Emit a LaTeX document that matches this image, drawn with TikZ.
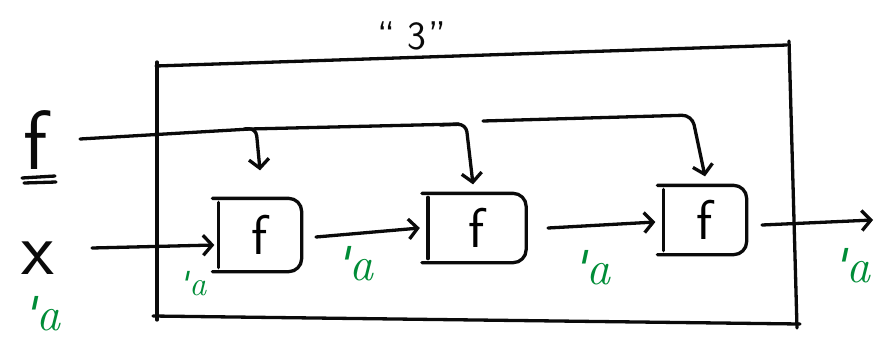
\documentclass[tikz,border=0pt]{standalone}
\usetikzlibrary{arrows.meta}
\definecolor{ink}{RGB}{10,10,10}
\definecolor{tag}{RGB}{0,140,55}
\newcommand{\tya}{{\sffamily\textquotesingle}\kern1pt a}
\begin{document}
\begin{tikzpicture}[x=1pt,y=-1pt,line width=3.3pt,line cap=round,line join=round,
  wire/.style={draw=ink,-{Straight Barb[length=9pt,width=20pt,line width=3.3pt]}},
  stroke/.style={draw=ink},
  fbox/.style={draw=none,inner sep=0pt,font=\sffamily\fontsize{56}{56}\selectfont},
  bigtxt/.style={inner sep=0pt,text=ink,font=\sffamily\fontsize{#1}{#1}\selectfont},
  typ/.style={inner sep=0pt,text=tag,font=\itshape\fontsize{#1}{#1}\selectfont}]
\useasboundingbox (0,0) rectangle (877,341);

% enclosing block, sketched as four loose strokes
\coordinate (tl) at (157,66);
\coordinate (tr) at (789,45);
\coordinate (br) at (797,326);
\coordinate (bl) at (157,316);
\draw[stroke] ([xshift=-1pt]tl) -- ([xshift=-2pt]tr);
\draw[stroke] ([yshift=4pt]tr) -- ([yshift=-2pt]br);
\draw[stroke] ([xshift=-4pt]bl) -- ([xshift=3pt,yshift=2pt]br);
\draw[stroke] ([yshift=4pt]tl) -- ([yshift=-4pt]bl);
\node[bigtxt=40] (rep) at (412,36) {``\hspace{12pt}3\hspace{2pt}''};

% inputs
\node[bigtxt=84] (fin) at (36,140) {f};
\draw[stroke] (22,178) -- (55,176);
\draw[stroke] (24,183) -- (56,182);
\node[bigtxt=76] (xin) at (38,258) {x};
\node[typ=48] (tx) at (42,314) {\tya};

% the three applications of f
\node[fbox,minimum width=80pt,minimum height=70pt] (b1) at (260,235) {f};
\node[fbox,minimum width=95pt,minimum height=66pt] (b2) at (477,228) {f};
\node[fbox,minimum width=80pt,minimum height=66pt] (b3) at (705,220) {f};
\foreach \b in {b1,b2,b3}{
  \draw[stroke,rounded corners=13pt] ([xshift=-6pt]\b.north west) -- (\b.north east)
     -- (\b.south east) -- ([xshift=-6pt]\b.south west);
  \draw[stroke] ([yshift=-4pt]\b.north west) -- ([yshift=4pt]\b.south west);
}

% data flow along x
\draw[wire] (92,248) -- ([xshift=-4pt]b1.west |- 0,245);
\draw[wire] (316,237) -- ([xshift=-8pt]b2.west |- 0,228);
\draw[wire] (548,228) -- ([xshift=-8pt]b3.west |- 0,222);
\coordinate (out) at (873,220);
\draw[wire] (762,225) -- (out);
\node[typ=34] (t1) at (193,284) {\tya};
\node[typ=48] (t2) at (355,264) {\tya};
\node[typ=48] (t3) at (592,268) {\tya};
\node[typ=48] (t4) at (852,266) {\tya};

% f fed to every box from above
\draw[stroke] (80,139) -- (250,129) -- (459,124);
\draw[wire,rounded corners=8pt] (244,129) -- (256,128) -- ([yshift=28pt]b1.north);
\draw[wire,rounded corners=8pt] (440,125) -- (466,124) -- ([yshift=9pt]b2.north -| 473,0);
\draw[wire,rounded corners=10pt] (483,121) -- (692,115) -- ([yshift=9pt]b3.north);
\end{tikzpicture}
\end{document}
